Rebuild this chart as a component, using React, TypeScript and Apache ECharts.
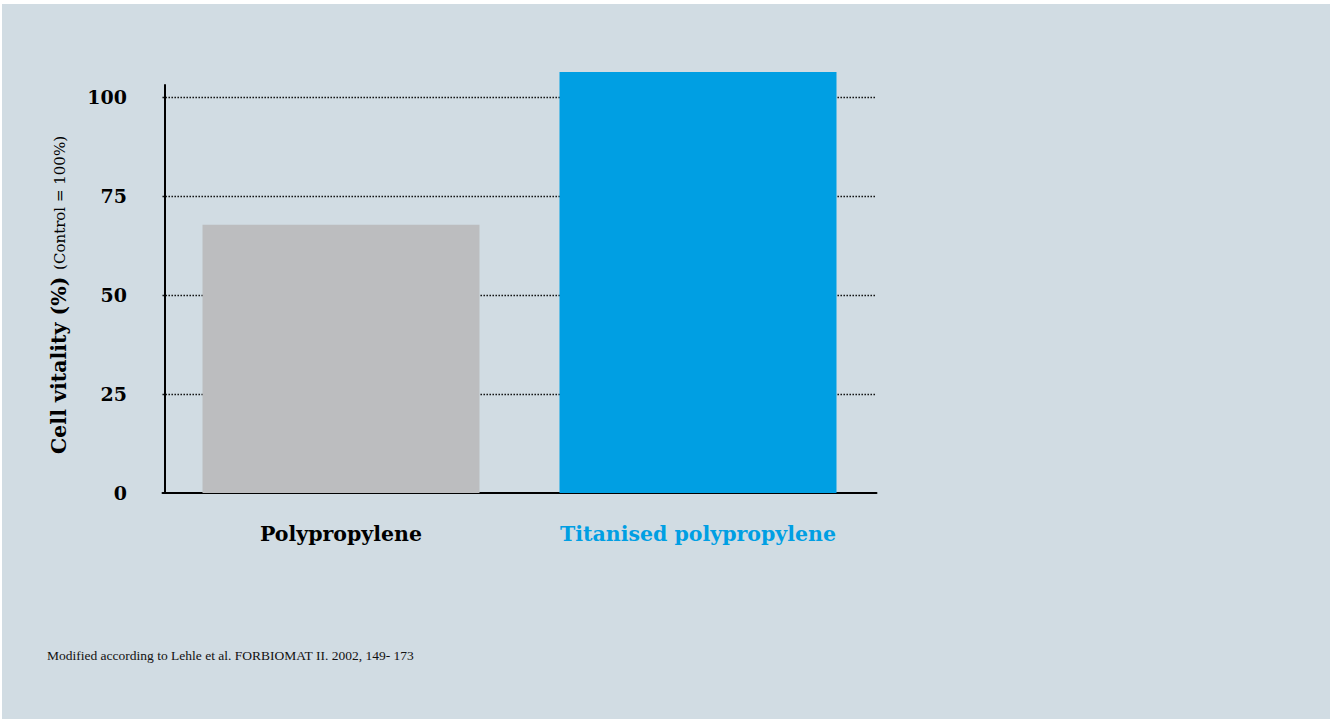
import React, { useEffect, useRef } from "react";
import * as echarts from "echarts";

const categories = ["Polypropylene", "Titanised polypropylene"];
const values = [67.7, 106.3];
const barColors = ["#bcbdbf", "#009fe3"];
const labelColors = ["#000000", "#009fe3"];
const yTicks = [0, 25, 50, 75, 100];
const yAxisTitle = "Cell vitality (%)";
const yAxisSub = "(Control = 100%)";
const footnote = "Modified according to Lehle et al. FORBIOMAT II. 2002, 149- 173";

const FONT = "DejaVu Serif";

export default function App() {
  const ref = useRef<HTMLDivElement>(null);
  useEffect(() => {
    if (!ref.current) return;
    const chart = echarts.init(ref.current, undefined, { renderer: "svg" });
    chart.setOption({
      animation: false,
      graphic: [
        {
          type: "rect",
          z: -10,
          silent: true,
          shape: { x: 2, y: 4, width: 1328, height: 715 },
          style: { fill: "#d1dce3" },
        },
        {
          type: "text",
          x: 59,
          y: 295,
          rotation: Math.PI / 2,
          style: {
            text: `{b|${yAxisTitle}}  {s|${yAxisSub}}`,
            align: "center",
            verticalAlign: "middle",
            rich: {
              b: { fontFamily: FONT, fontWeight: "bold", fontSize: 20.5, fill: "#000", verticalAlign: "bottom" },
              s: { fontFamily: FONT, fontSize: 15, fill: "#000", verticalAlign: "bottom", padding: [0, 0, 2, 0] },
            },
          },
        },
        {
          type: "text",
          x: 47,
          y: 655,
          style: {
            text: footnote,
            fontFamily: "Liberation Serif",
            fontSize: 13.5,
            fill: "#111",
            align: "left",
            verticalAlign: "middle",
          },
        },
      ],
      grid: { left: 162.5, top: 85, width: 714, height: 408, containLabel: false },
      xAxis: {
        type: "category",
        data: categories,
        axisLine: { show: true, lineStyle: { color: "#000", width: 2 } },
        axisTick: { show: false },
        axisLabel: {
          interval: 0,
          margin: 30,
          fontFamily: FONT,
          fontWeight: "bold",
          fontSize: 20.5,
          color: (_v: string, i: number) => labelColors[i],
        },
        splitLine: { show: false },
      },
      yAxis: {
        type: "value",
        min: 0,
        max: 103,
        interval: 25,
        offset: -2.5,
        axisLine: { show: true, lineStyle: { color: "#000", width: 2 } },
        axisTick: { show: false },
        axisLabel: {
          margin: 38,
          fontFamily: FONT,
          fontWeight: "bold",
          fontSize: 19,
          color: "#000",
          showMaxLabel: false,
          formatter: (v: number) => (yTicks.includes(v) ? String(v) : ""),
        },
        splitLine: {
          show: true,
          showMinLine: false,
          showMaxLine: false,
          lineStyle: { color: "#000", width: 1.4, type: [1.4, 1.6] },
        },
      },
      series: [
        {
          type: "bar",
          clip: false,
          barWidth: 277,
          data: values.map((v, i) => ({ value: v, itemStyle: { color: barColors[i] } })),
        },
      ],
    });
    return () => chart.dispose();
  }, []);
  return (
    <div
      ref={ref}
      style={{ position: "fixed", left: 0, top: 0, width: 1330, height: 719, background: "#fff" }}
    />
  );
}
